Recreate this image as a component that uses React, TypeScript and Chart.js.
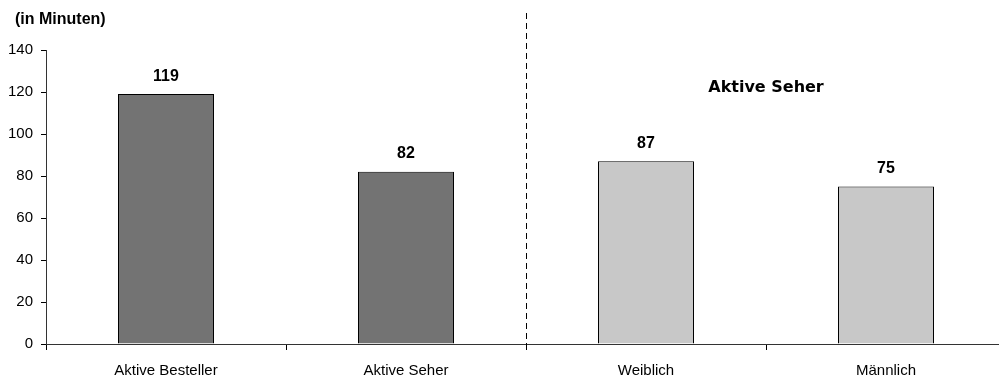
import React, { useEffect, useRef } from "react";
import { Chart, registerables } from "chart.js";

Chart.register(...registerables);

const categories = ["Aktive Besteller", "Aktive Seher", "Weiblich", "Männlich"];
const minutes = [119, 82, 87, 75];
const barColors = ["#737373", "#737373", "#c8c8c8", "#c8c8c8"];
const yTicks = [0, 20, 40, 60, 80, 100, 120, 140];
const unitLabel = "(in Minuten)";
const groupLabel = "Aktive Seher";
const groupLabelValue = 122;

const FONT = "'Liberation Sans', Arial, sans-serif";

const overlayPlugin = {
  id: "overlay",
  afterDatasetsDraw(chart: any) {
    const { ctx, chartArea, scales } = chart;
    const x = scales.x;
    const y = scales.y;
    ctx.save();

    // value labels above bars
    const meta = chart.getDatasetMeta(0);
    ctx.fillStyle = "#000";
    ctx.font = `bold 16px ${FONT}`;
    ctx.textAlign = "center";
    ctx.textBaseline = "middle";
    meta.data.forEach((bar: any, i: number) => {
      ctx.fillText(String(minutes[i]), bar.x, bar.y - 18);
    });

    // dashed separator between the two groups
    const sx = Math.round(x.getPixelForValue(1.5)) + 0.5;
    ctx.strokeStyle = "#000";
    ctx.lineWidth = 1;
    ctx.setLineDash([6, 4]);
    ctx.beginPath();
    ctx.moveTo(sx, chartArea.top - 37);
    ctx.lineTo(sx, chartArea.bottom + 6);
    ctx.stroke();
    ctx.setLineDash([]);

    // group heading
    ctx.font = `bold 16px 'DejaVu Sans', Verdana, sans-serif`;
    ctx.fillText(groupLabel, x.getPixelForValue(2.5), y.getPixelForValue(groupLabelValue));

    // unit label
    ctx.font = `bold 16px ${FONT}`;
    ctx.textAlign = "left";
    ctx.fillText(unitLabel, 15, 20);
    ctx.restore();
  },
};

export default function App() {
  const ref = useRef<HTMLCanvasElement>(null);

  useEffect(() => {
    if (!ref.current) return;
    const chart = new Chart(ref.current, {
      type: "bar",
      data: {
        labels: categories,
        datasets: [
          {
            data: minutes,
            backgroundColor: barColors,
            borderColor: "#000",
            borderWidth: 1,
            categoryPercentage: 1,
            barPercentage: 0.4,
          },
        ],
      },
      options: {
        animation: false,
        responsive: false,
        maintainAspectRatio: false,
        devicePixelRatio: 1,
        layout: { padding: { top: 50, right: 6, left: 0, bottom: 0 } },
        plugins: { legend: { display: false }, tooltip: { enabled: false } },
        scales: {
          x: {
            grid: {
              display: true,
              offset: true,
              drawOnChartArea: false,
              drawTicks: true,
              tickLength: 6,
              color: "#000",
            },
            border: { display: true, color: "#333", width: 1 },
            ticks: {
              color: "#000",
              font: { family: FONT, size: 15 },
              padding: 12,
              maxRotation: 0,
            },
            afterFit(scale: any) {
              scale.height = 37;
            },
          },
          y: {
            min: 0,
            max: 140,
            afterBuildTicks(scale: any) {
              scale.ticks = yTicks.map((v) => ({ value: v }));
            },
            grid: {
              display: true,
              drawOnChartArea: false,
              drawTicks: true,
              tickLength: 5,
              color: "#000",
            },
            border: { display: true, color: "#333", width: 1 },
            ticks: {
              color: "#000",
              font: { family: FONT, size: 15 },
              padding: 8,
            },
            afterFit(scale: any) {
              scale.width = 46;
            },
          },
        },
      },
      plugins: [overlayPlugin],
    });
    return () => chart.destroy();
  }, []);

  return (
    <div
      style={{
        position: "fixed",
        left: 0,
        top: 0,
        width: 999,
        height: 381,
        overflow: "hidden",
        background: "#fff",
      }}
    >
      <canvas ref={ref} width={1012} height={381} style={{ width: 1012, height: 381, display: "block" }} />
    </div>
  );
}
